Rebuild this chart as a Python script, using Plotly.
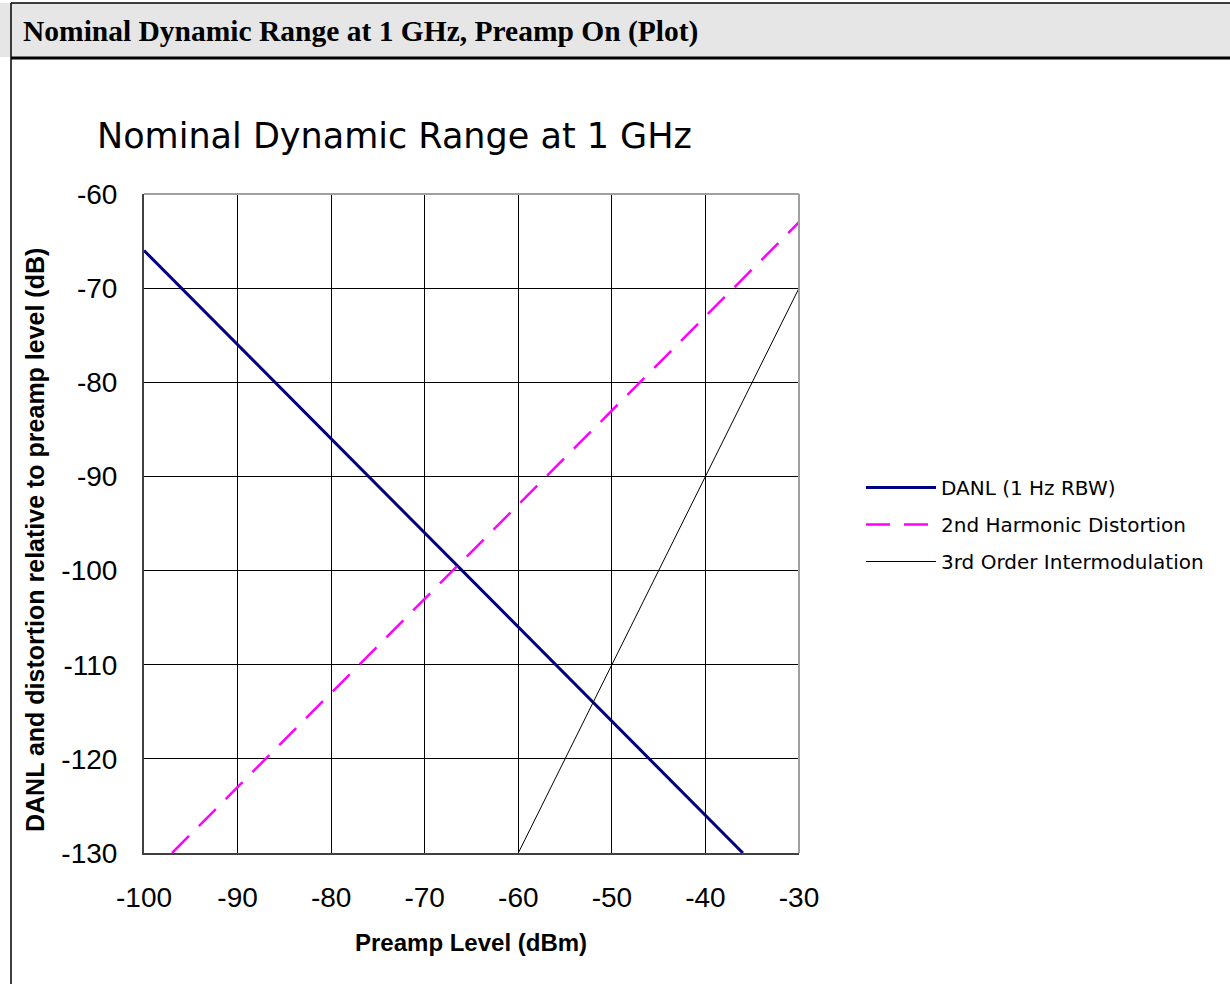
import plotly.graph_objects as go

# chart values
x_ticks = [-100, -90, -80, -70, -60, -50, -40, -30]
y_ticks = [-60, -70, -80, -90, -100, -110, -120, -130]
x_tick_text = ['-100', '-90', '-80', '-70', '-60', '-50', '-40', '-30']
y_tick_text = ['-60', '-70', '-80', '-90', '-100', '-110', '-120', '-130']

danl_x = [-100, -36]
danl_y = [-66, -130]
harm_x = [-97, -30]
harm_y = [-130, -63]
imd_x = [-60, -30]
imd_y = [-130, -70]

W, H = 1230, 984
L, R, T, B = 144, 799, 194, 853


def px(x):
    return (x - L) / (R - L)


def py(y):
    return (B - y) / (B - T)


fig = go.Figure()
fig.add_trace(go.Scatter(x=danl_x, y=danl_y, mode='lines', name='DANL (1 Hz RBW)',
                         legendgroup='a', line=dict(color='#000080', width=3)))
fig.add_trace(go.Scatter(x=harm_x, y=harm_y, mode='lines', name='2nd Harmonic Distortion',
                         legendgroup='b', line=dict(color='#ff00ff', width=2.5, dash='24px,14px')))
fig.add_trace(go.Scatter(x=imd_x, y=imd_y, mode='lines', name='3rd Order Intermodulation',
                         legendgroup='c', line=dict(color='black', width=1)))

tick_font = dict(family='Liberation Sans, Arial', size=28, color='black')
fig.update_xaxes(range=[-100, -30], tickvals=x_ticks, ticktext=x_tick_text, showgrid=True,
                 gridcolor='black', gridwidth=1, showline=True, linecolor='#404040', linewidth=2,
                 zeroline=False, ticks='', tickfont=tick_font, ticklabelstandoff=18)
fig.update_yaxes(range=[-130, -60], tickvals=y_ticks, ticktext=y_tick_text, showgrid=True,
                 gridcolor='black', gridwidth=1, showline=True, linecolor='#404040', linewidth=2,
                 zeroline=False, ticks='', tickfont=tick_font, ticklabelstandoff=19)

shapes = [
    # header bar
    dict(type='rect', xref='paper', yref='paper', x0=px(0), x1=px(W), y0=py(57), y1=py(3),
         fillcolor='#e6e6e6', line_width=0, layer='below'),
    dict(type='line', xref='paper', yref='paper', x0=px(11), x1=px(W), y0=py(3), y1=py(3),
         line=dict(color='black', width=1.5)),
    dict(type='line', xref='paper', yref='paper', x0=px(11), x1=px(W), y0=py(58), y1=py(58),
         line=dict(color='black', width=3)),
    dict(type='line', xref='paper', yref='paper', x0=px(11), x1=px(11), y0=py(3), y1=py(H),
         line=dict(color='black', width=1.5)),
    # light frame on top and right
    dict(type='line', xref='paper', yref='paper', x0=0, x1=1, y0=1, y1=1,
         line=dict(color='#a0a0a0', width=2)),
    dict(type='line', xref='paper', yref='paper', x0=1, x1=1, y0=0, y1=1,
         line=dict(color='#a0a0a0', width=2)),
]

annotations = [
    dict(text='<b>Nominal Dynamic Range at 1 GHz, Preamp On (Plot)</b>', xref='paper', yref='paper',
         x=px(21), y=py(31), xanchor='left', yanchor='middle', showarrow=False,
         font=dict(family='Liberation Serif, Times New Roman', size=29.5, color='black')),
    dict(text='Nominal Dynamic Range at 1 GHz', xref='paper', yref='paper',
         x=px(95), y=py(136), xanchor='left', yanchor='middle', showarrow=False,
         font=dict(family='DejaVu Sans', size=35, color='black')),
    dict(text='<b>Preamp Level (dBm)</b>', xref='paper', yref='paper',
         x=px(471), y=py(942), xanchor='center', yanchor='middle', showarrow=False,
         font=dict(family='Liberation Sans, Arial', size=24, color='black')),
    dict(text='<b>DANL and distortion relative to preamp level (dB)</b>', xref='paper', yref='paper',
         x=px(35), y=py(540), xanchor='center', yanchor='middle', showarrow=False, textangle=-90,
         font=dict(family='Liberation Sans, Arial', size=25, color='black')),
]

fig.update_layout(
    width=W, height=H,
    margin=dict(l=L, r=W - R, t=T, b=H - B, pad=0),
    paper_bgcolor='white', plot_bgcolor='white',
    shapes=shapes, annotations=annotations,
    showlegend=True,
    legend=dict(x=px(861), y=py(468), xanchor='left', yanchor='top',
                font=dict(family='DejaVu Sans', size=20, color='black'),
                itemwidth=70, tracegroupgap=8, traceorder='grouped',
                bgcolor='rgba(0,0,0,0)', borderwidth=0),
)

fig.write_html("out.html", config={'displayModeBar': False},
               post_script="document.body.style.margin='0';")
